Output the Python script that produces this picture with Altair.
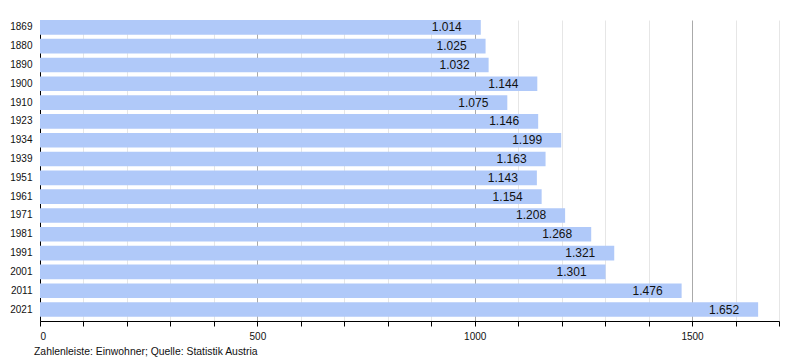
import altair as alt
import pandas as pd

years = ["1869", "1880", "1890", "1900", "1910", "1923", "1934", "1939",
         "1951", "1961", "1971", "1981", "1991", "2001", "2011", "2021"]
population = [1014, 1025, 1032, 1144, 1075, 1146, 1199, 1163,
              1143, 1154, 1208, 1268, 1321, 1301, 1476, 1652]
x_ticks = list(range(0, 1701, 100))
footer = "Zahlenleiste: Einwohner; Quelle: Statistik Austria"

df = pd.DataFrame({"Jahr": years, "Einwohner": population})

FONT = "Liberation Sans"

y_enc = alt.Y("Jahr:N", sort=years,
              scale=alt.Scale(paddingInner=0.22, paddingOuter=0.11, align=0),
              axis=alt.Axis(title=None, ticks=False, labelPadding=8,
                            labelFontSize=10, labelColor="#111", labelFont=FONT,
                            domainColor="#000", grid=False))
x_enc = alt.X("Einwohner:Q",
              scale=alt.Scale(domain=[0, 1700], nice=False, zero=True),
              axis=alt.Axis(title=None, values=x_ticks,
                            labelExpr="datum.value % 500 === 0 ? datum.label : ''",
                            labelFontSize=10, labelColor="#111", labelFont=FONT,
                            labelPadding=5, tickSize=5, tickColor="#000",
                            domainColor="#000", format="d",
                            grid=True,
                            gridColor=alt.condition("datum.value % 500 === 0",
                                                    alt.value("#aaaaaa"),
                                                    alt.value("#e6e6e6"))))

bars = alt.Chart(df).mark_bar(color="#b0c9f9").encode(x=x_enc, y=y_enc)

labels = alt.Chart(df).transform_calculate(
    lab="replace(format(datum.Einwohner, ','), ',', '.')"
).mark_text(align="right", baseline="middle", dx=-19, fontSize=12,
            font=FONT, color="#111").encode(
    x=alt.X("Einwohner:Q"), y=alt.Y("Jahr:N", sort=years), text="lab:N")

chart = (bars + labels).properties(
    width=739, height=301,
    padding={"left": 32, "top": 12, "right": 12, "bottom": 38},
    autosize=alt.AutoSizeParams(type="none"),
    title=alt.TitleParams(footer, orient="bottom", anchor="start", frame="group",
                          dx=-6, offset=6, fontSize=10.4, fontWeight="normal",
                          font=FONT, color="#111"),
).configure_view(stroke=None)

chart.save("out.html", embed_options={"renderer": "svg", "actions": False})
